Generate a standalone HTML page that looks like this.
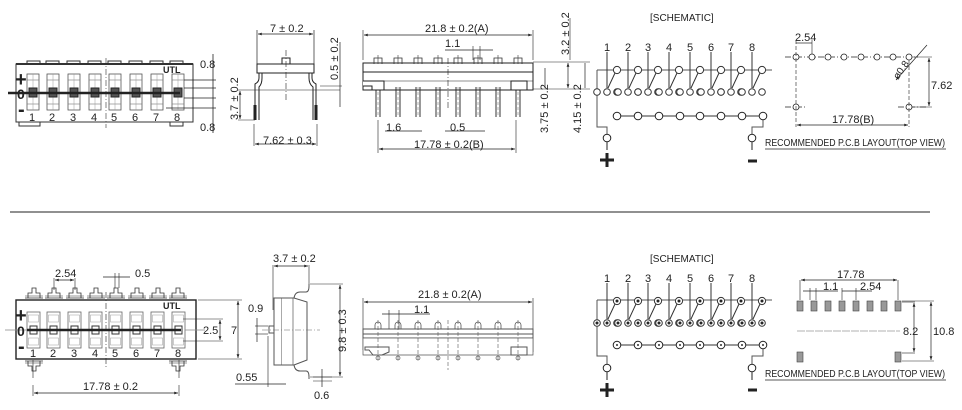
<!DOCTYPE html>
<html><head><meta charset="utf-8"><style>
html,body{margin:0;padding:0;background:#fff;}
svg{display:block;}
text{font-family:"Liberation Sans",sans-serif;fill:#222;}
</style></head><body>
<svg width="962" height="410" viewBox="0 0 962 410" xmlns="http://www.w3.org/2000/svg">
<defs>
<marker id="a" viewBox="0 0 8 6" refX="8" refY="3" markerWidth="6" markerHeight="4" orient="auto-start-reverse"><path d="M0,0L8,3L0,6z" fill="#222"/></marker>
<g id="win"><rect x="0" y="0" width="12" height="36" fill="#fff" stroke="#555" stroke-width="0.8"/><line x1="0" y1="6" x2="12" y2="6" stroke="#777" stroke-width="0.6"/><line x1="0" y1="30" x2="12" y2="30" stroke="#777" stroke-width="0.6"/><line x1="6" y1="0" x2="6" y2="36" stroke="#999" stroke-width="0.5"/><rect x="2" y="14" width="8" height="9" fill="#555"/></g>
<g id="win2"><rect x="0" y="0" width="13" height="36" fill="#fff" stroke="#666" stroke-width="0.8"/><rect x="1.5" y="3" width="10" height="7" fill="none" stroke="#999" stroke-width="0.5"/><rect x="1.5" y="26" width="10" height="7" fill="none" stroke="#999" stroke-width="0.5"/><rect x="3" y="14" width="7" height="8" fill="#fff" stroke="#333" stroke-width="1"/></g>
<g id="sw"><line x1="0" y1="5" x2="0" y2="41" stroke="#333"/><line x1="8" y1="26" x2="1" y2="41" stroke="#333"/><circle cx="10" cy="23" r="3.6" fill="#fff" stroke="#333"/><circle cx="-10" cy="45" r="3.3" fill="#fff" stroke="#333"/><circle cx="0" cy="45" r="3.3" fill="#fff" stroke="#333"/><circle cx="10" cy="45" r="3.3" fill="#fff" stroke="#333"/></g>
<g id="sw2"><line x1="0" y1="5" x2="0" y2="41" stroke="#333"/><line x1="8" y1="26" x2="1" y2="41" stroke="#333"/><circle cx="10" cy="23" r="3.6" fill="#fff" stroke="#333"/><circle cx="-10" cy="45" r="3.3" fill="#fff" stroke="#333"/><circle cx="0" cy="45" r="3.3" fill="#fff" stroke="#333"/><circle cx="10" cy="45" r="3.3" fill="#fff" stroke="#333"/><circle cx="10" cy="23" r="1" fill="#333"/><circle cx="-10" cy="45" r="1" fill="#333"/><circle cx="0" cy="45" r="1" fill="#333"/><circle cx="10" cy="45" r="1" fill="#333"/></g>
<g id="pin"><line x1="0" y1="0" x2="0" y2="30" stroke="#333"/><line x1="4" y1="0" x2="4" y2="30" stroke="#333"/><line x1="2" y1="0" x2="2" y2="30" stroke="#666" stroke-width="0.5" stroke-dasharray="3,2"/></g>
<g id="tp"><path d="M-4,6 V0 H4 V6" fill="none" stroke="#333" stroke-width="0.8"/><line x1="0" y1="-3" x2="0" y2="6" stroke="#333" stroke-width="0.6"/></g>
<g id="tab"><path d="M-9,8 H9 M-6,8 V3 H-2 V-2 H2 V3 H6 V8" fill="none" stroke="#333" stroke-width="0.8"/><line x1="-9" y1="6" x2="9" y2="6" stroke="#333" stroke-width="0.6"/></g>
<g id="pad"><rect x="-3" y="-5" width="6" height="10" fill="#999" stroke="#444" stroke-width="0.6"/></g>
</defs>
<g fill="none" stroke="#222" stroke-width="1">

<!-- TOP LEFT SWITCH -->
<g stroke="#333">
<rect x="16" y="64" width="177" height="58" fill="#fff"/>
<line x1="16" y1="64" x2="193" y2="64" stroke-width="2"/>
<rect x="27" y="61" width="13" height="3"/><rect x="46" y="61" width="13" height="3"/><rect x="67" y="61" width="13" height="3"/><rect x="88" y="61" width="13" height="3"/><rect x="108" y="61" width="13" height="3"/><rect x="129" y="61" width="13" height="3"/><rect x="150" y="61" width="13" height="3"/><rect x="170" y="61" width="13" height="3"/>
<rect x="19" y="122" width="21" height="4"/><rect x="170" y="122" width="13" height="4"/>
<line x1="106" y1="58" x2="106" y2="128" stroke-dasharray="6,2,1,2" stroke-width="0.6"/>
</g>
<use href="#win" x="27" y="74"/><use href="#win" x="47" y="74"/><use href="#win" x="68" y="74"/><use href="#win" x="89" y="74"/><use href="#win" x="109" y="74"/><use href="#win" x="130" y="74"/><use href="#win" x="151" y="74"/><use href="#win" x="172" y="74"/>
<line x1="8" y1="93" x2="180" y2="93" stroke-width="2.5"/>
<line x1="184" y1="80" x2="216" y2="80" stroke-width="0.7"/><line x1="184" y1="88" x2="216" y2="88" stroke-width="0.7"/><line x1="184" y1="98" x2="216" y2="98" stroke-width="0.7"/><line x1="166" y1="108" x2="216" y2="108" stroke-width="0.7"/>
<line x1="213" y1="54" x2="213" y2="133" stroke-width="0.8"/>

<!-- TOP SIDE VIEW -->
<line x1="257" y1="30" x2="257" y2="64" stroke-width="0.7"/><line x1="314" y1="30" x2="314" y2="64" stroke-width="0.7"/>
<line x1="258" y1="34" x2="313" y2="34" stroke-width="0.7" marker-start="url(#a)" marker-end="url(#a)"/>
<rect x="257" y="64" width="57" height="9" fill="#fff"/>
<rect x="282" y="58" width="8" height="6"/>
<line x1="286" y1="50" x2="286" y2="100" stroke-dasharray="6,2,1,2" stroke-width="0.6"/>
<path d="M259,73 V78 Q259,82 255,84 V120 M312,73 V78 Q312,82 316,84 V120"/>
<path d="M262,73 V78 Q262,84 259,87 V120 M309,73 V78 Q309,84 313,87 V120"/>
<line x1="255" y1="105" x2="255" y2="120" stroke-width="3"/><line x1="316" y1="105" x2="316" y2="120" stroke-width="3"/>
<line x1="238" y1="90" x2="340" y2="90" stroke-width="0.6"/><line x1="238" y1="120" x2="255" y2="120" stroke-width="0.6"/>
<line x1="240" y1="91" x2="240" y2="119" stroke-width="0.7" marker-start="url(#a)" marker-end="url(#a)"/>
<line x1="320" y1="86" x2="342" y2="86" stroke-width="0.6"/>
<line x1="340" y1="42" x2="340" y2="107" stroke-width="0.7"/>
<line x1="254" y1="124" x2="254" y2="146" stroke-width="0.6"/><line x1="317" y1="124" x2="317" y2="146" stroke-width="0.6"/>
<line x1="255" y1="144" x2="316" y2="144" stroke-width="0.7" marker-start="url(#a)" marker-end="url(#a)"/>

<!-- TOP FRONT VIEW -->
<line x1="363" y1="30" x2="363" y2="60" stroke-width="0.6"/><line x1="533" y1="30" x2="533" y2="60" stroke-width="0.6"/>
<line x1="364" y1="35" x2="532" y2="35" stroke-width="0.7" marker-start="url(#a)" marker-end="url(#a)"/>
<line x1="445" y1="50" x2="493" y2="50" stroke-width="0.7"/>
<line x1="473" y1="46" x2="473" y2="60" stroke-width="0.6"/><line x1="480" y1="46" x2="480" y2="60" stroke-width="0.6"/>
<rect x="363" y="63" width="170" height="9" fill="#fff"/>
<rect x="363" y="72" width="170" height="18" fill="#fff"/>
<line x1="363" y1="81" x2="533" y2="81" stroke-width="0.6"/>
<use href="#tp" x="378" y="58"/><use href="#tp" x="398" y="58"/><use href="#tp" x="418" y="58"/><use href="#tp" x="438" y="58"/><use href="#tp" x="458" y="58"/><use href="#tp" x="478" y="58"/><use href="#tp" x="498" y="58"/><use href="#tp" x="518" y="58"/>
<use href="#pin" x="376" y="87"/><use href="#pin" x="396" y="87"/><use href="#pin" x="416" y="87"/><use href="#pin" x="436" y="87"/><use href="#pin" x="456" y="87"/><use href="#pin" x="476" y="87"/><use href="#pin" x="496" y="87"/><use href="#pin" x="516" y="87"/>
<path d="M363,81 H384 V90 H372 V86 H363" fill="#fff"/>
<rect x="511" y="81" width="16" height="9" fill="#fff"/>
<line x1="448" y1="58" x2="448" y2="110" stroke-dasharray="6,2,1,2" stroke-width="0.6"/>
<line x1="533" y1="62" x2="590" y2="62" stroke-width="0.6"/><line x1="533" y1="89" x2="590" y2="89" stroke-width="0.6"/>
<line x1="568" y1="63" x2="568" y2="88" stroke-width="0.7" marker-start="url(#a)" marker-end="url(#a)"/>
<line x1="570" y1="18" x2="570" y2="60" stroke-width="0.6"/>
<line x1="585" y1="63" x2="585" y2="88" stroke-width="0.7"/>
<line x1="545" y1="68" x2="545" y2="88" stroke-width="0.7"/>
<line x1="378" y1="120" x2="378" y2="153" stroke-width="0.6"/><line x1="516" y1="120" x2="516" y2="153" stroke-width="0.6"/>
<line x1="379" y1="149" x2="515" y2="149" stroke-width="0.7" marker-start="url(#a)" marker-end="url(#a)"/>
<line x1="385" y1="131" x2="422" y2="131" stroke-width="0.7"/><line x1="445" y1="131" x2="485" y2="131" stroke-width="0.7"/>

<!-- TOP SCHEMATIC -->
<line x1="597" y1="70" x2="772" y2="70" stroke="#555"/>
<path d="M597,70 V127 H607 V134" stroke="#555"/>
<path d="M763,120 V127 H752 V134" stroke="#555"/>
<use href="#sw" x="607" y="47"/><use href="#sw" x="628" y="47"/><use href="#sw" x="648" y="47"/><use href="#sw" x="669" y="47"/><use href="#sw" x="690" y="47"/><use href="#sw" x="711" y="47"/><use href="#sw" x="731" y="47"/><use href="#sw" x="752" y="47"/>
<line x1="617" y1="116" x2="763" y2="116" stroke="#333"/>
<g fill="#fff"><circle cx="617" cy="116" r="3.8"/><circle cx="638" cy="116" r="3.8"/><circle cx="659" cy="116" r="3.8"/><circle cx="680" cy="116" r="3.8"/><circle cx="700" cy="116" r="3.8"/><circle cx="721" cy="116" r="3.8"/><circle cx="742" cy="116" r="3.8"/><circle cx="763" cy="116" r="3.8"/>
<circle cx="607" cy="138" r="3.8"/><circle cx="752" cy="138" r="3.8"/></g>
<line x1="607" y1="142" x2="607" y2="150"/><line x1="752" y1="142" x2="752" y2="150"/>
<path d="M600,160 H614 M607,153 V167" stroke-width="3"/>
<line x1="748" y1="161" x2="757" y2="161" stroke-width="3"/>

<!-- TOP PCB -->
<line x1="785" y1="57" x2="918" y2="57" stroke-dasharray="6,2,1,2" stroke-width="0.7"/>
<line x1="785" y1="107" x2="805" y2="107" stroke-dasharray="6,2,1,2" stroke-width="0.7"/><line x1="898" y1="107" x2="928" y2="107" stroke-dasharray="6,2,1,2" stroke-width="0.7"/>
<g fill="#fff" stroke-width="0.8"><circle cx="796" cy="57" r="3"/><circle cx="812" cy="57" r="3"/><circle cx="828" cy="57" r="3"/><circle cx="844" cy="57" r="3"/><circle cx="861" cy="57" r="3"/><circle cx="877" cy="57" r="3"/><circle cx="893" cy="57" r="3"/><circle cx="909" cy="57" r="3"/><circle cx="796" cy="107" r="3"/><circle cx="909" cy="107" r="3"/></g>
<line x1="796" y1="40" x2="796" y2="127" stroke-width="0.6" stroke-dasharray="4,2"/><line x1="909" y1="60" x2="909" y2="127" stroke-width="0.6" stroke-dasharray="4,2"/>
<line x1="812" y1="40" x2="812" y2="54" stroke-width="0.6"/>
<line x1="796" y1="43" x2="812" y2="43" stroke-width="0.7"/>
<line x1="896" y1="80" x2="927" y2="45" stroke-width="0.7" marker-start="url(#a)"/>
<line x1="912" y1="57" x2="932" y2="57" stroke-width="0.6"/><line x1="912" y1="107" x2="932" y2="107" stroke-width="0.6"/>
<line x1="929" y1="58" x2="929" y2="106" stroke-width="0.7" marker-start="url(#a)" marker-end="url(#a)"/>
<line x1="797" y1="125" x2="908" y2="125" stroke-width="0.7" marker-start="url(#a)" marker-end="url(#a)"/>
<line x1="765" y1="149" x2="946" y2="149" stroke-width="0.8"/>

<line x1="10" y1="212" x2="930" y2="212" stroke-width="1"/>

<!-- BOTTOM LEFT SWITCH -->
<rect x="16" y="300" width="180" height="59" fill="#fff" stroke-width="1.4"/>
<use href="#tab" x="34" y="290"/><use href="#tab" x="54" y="290"/><use href="#tab" x="75" y="290"/><use href="#tab" x="96" y="290"/><use href="#tab" x="116" y="290"/><use href="#tab" x="137" y="290"/><use href="#tab" x="158" y="290"/><use href="#tab" x="178" y="290"/>
<g transform="translate(34,369) scale(1,-1)"><use href="#tab" x="0" y="0"/></g>
<g transform="translate(178,369) scale(1,-1)"><use href="#tab" x="0" y="0"/></g>
<line x1="33" y1="360" x2="33" y2="378" stroke-width="0.6"/><line x1="179" y1="360" x2="179" y2="378" stroke-width="0.6"/>
<line x1="34" y1="393" x2="178" y2="393" stroke-width="0.7" marker-start="url(#a)" marker-end="url(#a)"/>
<line x1="33" y1="385" x2="33" y2="396" stroke-width="0.6"/><line x1="179" y1="385" x2="179" y2="396" stroke-width="0.6"/>
<line x1="106" y1="292" x2="106" y2="368" stroke-dasharray="6,2,1,2" stroke-width="0.6"/>
<use href="#win2" x="27" y="312"/><use href="#win2" x="47" y="312"/><use href="#win2" x="68" y="312"/><use href="#win2" x="89" y="312"/><use href="#win2" x="109" y="312"/><use href="#win2" x="130" y="312"/><use href="#win2" x="151" y="312"/><use href="#win2" x="172" y="312"/>
<line x1="27" y1="330" x2="181" y2="330" stroke-width="2.5"/>
<line x1="5" y1="330" x2="27" y2="330" stroke-width="0.7" stroke="#888"/><line x1="185" y1="330" x2="205" y2="330" stroke-width="0.7" stroke="#888"/>
<line x1="54" y1="278" x2="54" y2="290" stroke-width="0.6"/><line x1="75" y1="278" x2="75" y2="290" stroke-width="0.6"/>
<line x1="55" y1="280" x2="74" y2="280" stroke-width="0.7" marker-start="url(#a)" marker-end="url(#a)"/>
<line x1="103" y1="277" x2="130" y2="277" stroke-width="0.7"/>
<line x1="115" y1="273" x2="115" y2="288" stroke-width="0.6"/><line x1="119" y1="273" x2="119" y2="288" stroke-width="0.6"/>
<line x1="183" y1="319" x2="223" y2="319" stroke-width="0.6"/><line x1="183" y1="341" x2="223" y2="341" stroke-width="0.6"/>
<line x1="220" y1="320" x2="220" y2="340" stroke-width="0.7" marker-start="url(#a)" marker-end="url(#a)"/>
<line x1="198" y1="300" x2="242" y2="300" stroke-width="0.6"/><line x1="198" y1="359" x2="242" y2="359" stroke-width="0.6"/>
<line x1="238" y1="301" x2="238" y2="358" stroke-width="0.7" marker-start="url(#a)" marker-end="url(#a)"/>

<!-- BOTTOM SIDE VIEW -->
<line x1="273" y1="265" x2="273" y2="310" stroke-width="0.6"/><line x1="309" y1="265" x2="309" y2="285" stroke-width="0.6"/>
<line x1="274" y1="266" x2="308" y2="266" stroke-width="0.7" marker-start="url(#a)" marker-end="url(#a)"/>
<rect x="274" y="298" width="8" height="67" fill="#fff" stroke="#555"/>
<path d="M282,298 H294 L307,302 V360 L294,365 H282" fill="#fff" stroke="#555"/>
<line x1="293" y1="298" x2="293" y2="365" stroke="#555" stroke-width="0.7"/>
<path d="M294,298 Q295,292 300,292 H306 Q309,292 309,286 V284 M294,365 Q295,371 300,371 H306 Q309,371 309,377 V379" stroke="#555"/>
<rect x="269" y="326" width="5" height="7" fill="#fff" stroke="#555"/>
<line x1="262" y1="330" x2="320" y2="330" stroke-dasharray="6,2,1,2" stroke-width="0.6" stroke="#666"/>
<line x1="310" y1="284" x2="343" y2="284" stroke-width="0.6"/><line x1="310" y1="377" x2="343" y2="377" stroke-width="0.6"/>
<line x1="340" y1="285" x2="340" y2="376" stroke-width="0.7" marker-start="url(#a)" marker-end="url(#a)"/>
<line x1="255" y1="326" x2="268" y2="326" stroke-width="0.6"/><line x1="255" y1="334" x2="268" y2="334" stroke-width="0.6"/>
<line x1="257" y1="318" x2="257" y2="342" stroke-width="0.7"/>
<line x1="268" y1="336" x2="268" y2="387" stroke-width="0.6"/>
<line x1="235" y1="384" x2="286" y2="384" stroke-width="0.7"/>
<line x1="322" y1="369" x2="322" y2="387" stroke-width="0.7"/>
<line x1="313" y1="377" x2="332" y2="377" stroke-width="0.6"/><line x1="313" y1="381" x2="332" y2="381" stroke-width="0.6"/>

<!-- BOTTOM FRONT VIEW -->
<line x1="363" y1="298" x2="363" y2="350" stroke-width="0.6"/><line x1="533" y1="298" x2="533" y2="352" stroke-width="0.6"/>
<line x1="364" y1="302" x2="532" y2="302" stroke-width="0.7" marker-start="url(#a)" marker-end="url(#a)"/>
<line x1="382" y1="314" x2="430" y2="314" stroke-width="0.7"/>
<line x1="389" y1="310" x2="389" y2="330" stroke-width="0.6"/><line x1="399" y1="310" x2="399" y2="330" stroke-width="0.6"/>
<rect x="363" y="329" width="170" height="5" fill="#fff" stroke="#555"/>
<rect x="363" y="334" width="170" height="4" fill="#fff" stroke="#555"/>
<path d="M363,338 H533 V355 H363 Z" fill="#fff" stroke="#555" stroke-width="0.7"/>
<g stroke="#555" stroke-width="0.8">
<path d="M375,329 v-4 a3,3 0 0 1 6,0 v4"/><path d="M395,329 v-4 a3,3 0 0 1 6,0 v4"/><path d="M415,329 v-4 a3,3 0 0 1 6,0 v4"/><path d="M435,329 v-4 a3,3 0 0 1 6,0 v4"/><path d="M455,329 v-4 a3,3 0 0 1 6,0 v4"/><path d="M475,329 v-4 a3,3 0 0 1 6,0 v4"/><path d="M495,329 v-4 a3,3 0 0 1 6,0 v4"/><path d="M515,329 v-4 a3,3 0 0 1 6,0 v4"/>
</g>
<path d="M365,347 H389 V352 L382,355 H373 L369,350 H365 Z" fill="#fff" stroke="#555"/>
<rect x="511" y="347" width="16" height="8" fill="#fff" stroke="#555"/>
<g fill="#fff" stroke="#555" stroke-width="0.7"><circle cx="378" cy="358" r="2"/><circle cx="398" cy="358" r="2"/><circle cx="418" cy="358" r="2"/><circle cx="438" cy="358" r="2"/><circle cx="458" cy="358" r="2"/><circle cx="478" cy="358" r="2"/><circle cx="498" cy="358" r="2"/><circle cx="518" cy="358" r="2"/></g>
<g stroke="#555" stroke-width="0.6" stroke-dasharray="4,2"><line x1="378" y1="320" x2="378" y2="360"/><line x1="398" y1="320" x2="398" y2="360"/><line x1="418" y1="320" x2="418" y2="360"/><line x1="438" y1="320" x2="438" y2="360"/><line x1="458" y1="320" x2="458" y2="360"/><line x1="478" y1="320" x2="478" y2="360"/><line x1="498" y1="320" x2="498" y2="360"/><line x1="518" y1="320" x2="518" y2="360"/><line x1="448" y1="320" x2="448" y2="370"/></g>

<!-- BOTTOM SCHEMATIC -->
<line x1="597" y1="300" x2="772" y2="300" stroke="#555"/>
<path d="M597,300 V356 H607 V364" stroke="#555"/>
<path d="M763,349 V356 H752 V364" stroke="#555"/>
<use href="#sw2" x="607" y="278"/><use href="#sw2" x="628" y="278"/><use href="#sw2" x="648" y="278"/><use href="#sw2" x="669" y="278"/><use href="#sw2" x="690" y="278"/><use href="#sw2" x="711" y="278"/><use href="#sw2" x="731" y="278"/><use href="#sw2" x="752" y="278"/>
<line x1="617" y1="345" x2="763" y2="345" stroke="#333"/>
<g fill="#fff"><circle cx="617" cy="345" r="3.8"/><circle cx="638" cy="345" r="3.8"/><circle cx="659" cy="345" r="3.8"/><circle cx="680" cy="345" r="3.8"/><circle cx="700" cy="345" r="3.8"/><circle cx="721" cy="345" r="3.8"/><circle cx="742" cy="345" r="3.8"/><circle cx="763" cy="345" r="3.8"/>
<circle cx="607" cy="368" r="3.8"/><circle cx="752" cy="368" r="3.8"/></g>
<g fill="#333" stroke="none"><circle cx="617" cy="345" r="1"/><circle cx="638" cy="345" r="1"/><circle cx="659" cy="345" r="1"/><circle cx="680" cy="345" r="1"/><circle cx="700" cy="345" r="1"/><circle cx="721" cy="345" r="1"/><circle cx="742" cy="345" r="1"/><circle cx="763" cy="345" r="1"/></g>
<line x1="607" y1="372" x2="607" y2="380"/><line x1="752" y1="372" x2="752" y2="380"/>
<path d="M600,390 H614 M607,383 V397" stroke-width="3"/>
<line x1="748" y1="390" x2="757" y2="390" stroke-width="3"/>

<!-- BOTTOM PCB -->
<use href="#pad" x="800" y="306"/><use href="#pad" x="814" y="306"/><use href="#pad" x="828" y="306"/><use href="#pad" x="842" y="306"/><use href="#pad" x="856" y="306"/><use href="#pad" x="870" y="306"/><use href="#pad" x="884" y="306"/><use href="#pad" x="898" y="306"/>
<use href="#pad" x="800" y="357"/><use href="#pad" x="898" y="357"/>
<line x1="800" y1="280" x2="800" y2="300" stroke-width="0.6"/><line x1="898" y1="280" x2="898" y2="300" stroke-width="0.6"/>
<line x1="801" y1="280" x2="897" y2="280" stroke-width="0.7" marker-start="url(#a)" marker-end="url(#a)"/>
<line x1="803" y1="291" x2="838" y2="291" stroke-width="0.7"/>
<line x1="810" y1="288" x2="810" y2="300" stroke-width="0.6"/><line x1="816" y1="288" x2="816" y2="300" stroke-width="0.6"/>
<line x1="842" y1="291" x2="872" y2="291" stroke-width="0.7"/>
<line x1="842" y1="288" x2="842" y2="300" stroke-width="0.6"/><line x1="856" y1="288" x2="856" y2="300" stroke-width="0.6"/>
<line x1="797" y1="331" x2="900" y2="331" stroke-width="0.8" stroke="#999" stroke-dasharray="8,1"/>
<line x1="902" y1="302" x2="915" y2="302" stroke-width="0.6"/><line x1="902" y1="353" x2="915" y2="353" stroke-width="0.6"/>
<line x1="914" y1="303" x2="914" y2="352" stroke-width="0.7" marker-start="url(#a)" marker-end="url(#a)"/>
<line x1="902" y1="301" x2="934" y2="301" stroke-width="0.6"/><line x1="902" y1="361" x2="934" y2="361" stroke-width="0.6"/>
<line x1="931" y1="302" x2="931" y2="360" stroke-width="0.7" marker-start="url(#a)" marker-end="url(#a)"/>
<line x1="765" y1="380" x2="946" y2="380" stroke-width="0.8"/>
</g>

<!-- TEXT -->
<g font-size="11">
<text x="15" y="86" font-size="20" font-weight="bold">+</text>
<text x="17" y="99" font-size="14" font-weight="bold">0</text>
<text x="18" y="116" font-size="20" font-weight="bold">-</text>
<text x="163" y="73" font-size="9" font-weight="bold">UTL</text>
<text x="29" y="121">1</text><text x="49" y="121">2</text><text x="70" y="121">3</text><text x="91" y="121">4</text><text x="111" y="121">5</text><text x="132" y="121">6</text><text x="153" y="121">7</text><text x="174" y="121">8</text>
<text x="200" y="68">0.8</text><text x="200" y="131">0.8</text>
<text x="270" y="32">7 ± 0.2</text>
<text x="263" y="144">7.62 ± 0.3</text>
<text transform="translate(238,120) rotate(-90)">3.7 ± 0.2</text>
<text transform="translate(338,80) rotate(-90)">0.5 ± 0.2</text>
<text x="425" y="32">21.8 ± 0.2(A)</text>
<text x="445" y="47">1.1</text>
<text x="386" y="131">1.6</text><text x="450" y="131">0.5</text>
<text x="414" y="148">17.78 ± 0.2(B)</text>
<text transform="translate(569,55) rotate(-90)">3.2 ± 0.2</text>
<text transform="translate(548,133) rotate(-90)">3.75 ± 0.2</text>
<text transform="translate(581,133) rotate(-90)">4.15 ± 0.2</text>
<text x="650" y="21" font-size="10">[SCHEMATIC]</text>
<text x="604" y="51">1</text><text x="625" y="51">2</text><text x="645" y="51">3</text><text x="666" y="51">4</text><text x="687" y="51">5</text><text x="708" y="51">6</text><text x="728" y="51">7</text><text x="749" y="51">8</text>
<text x="795" y="41">2.54</text>
<text transform="translate(898,80) rotate(-55)" font-size="10">ø0.8</text>
<text x="931" y="89">7.62</text>
<text x="832" y="123">17.78(B)</text>
<text x="765" y="146" font-size="10" textLength="180" lengthAdjust="spacingAndGlyphs">RECOMMENDED P.C.B LAYOUT(TOP VIEW)</text>

<text x="15" y="322" font-size="20" font-weight="bold">+</text>
<text x="17" y="336" font-size="14" font-weight="bold">0</text>
<text x="18" y="353" font-size="20" font-weight="bold">-</text>
<text x="163" y="309" font-size="9" font-weight="bold">UTL</text>
<text x="30" y="357">1</text><text x="50" y="357">2</text><text x="71" y="357">3</text><text x="92" y="357">4</text><text x="112" y="357">5</text><text x="133" y="357">6</text><text x="154" y="357">7</text><text x="175" y="357">8</text>
<text x="55" y="277">2.54</text><text x="135" y="277">0.5</text>
<text x="203" y="334">2.5</text><text x="231" y="334">7</text>
<text x="83" y="390">17.78 ± 0.2</text>
<text x="273" y="262">3.7 ± 0.2</text>
<text x="248" y="312">0.9</text>
<text x="236" y="381">0.55</text>
<text x="314" y="399">0.6</text>
<text transform="translate(346,352) rotate(-90)">9.8 ± 0.3</text>
<text x="418" y="298">21.8 ± 0.2(A)</text>
<text x="414" y="313">1.1</text>
<text x="650" y="262" font-size="10">[SCHEMATIC]</text>
<text x="604" y="282">1</text><text x="625" y="282">2</text><text x="645" y="282">3</text><text x="666" y="282">4</text><text x="687" y="282">5</text><text x="708" y="282">6</text><text x="728" y="282">7</text><text x="749" y="282">8</text>
<text x="837" y="278">17.78</text>
<text x="823" y="290">1.1</text><text x="860" y="290">2.54</text>
<text x="903" y="335">8.2</text><text x="933" y="335">10.8</text>
<text x="765" y="377" font-size="10" textLength="180" lengthAdjust="spacingAndGlyphs">RECOMMENDED P.C.B LAYOUT(TOP VIEW)</text>
</g>
</svg>
</body></html>
